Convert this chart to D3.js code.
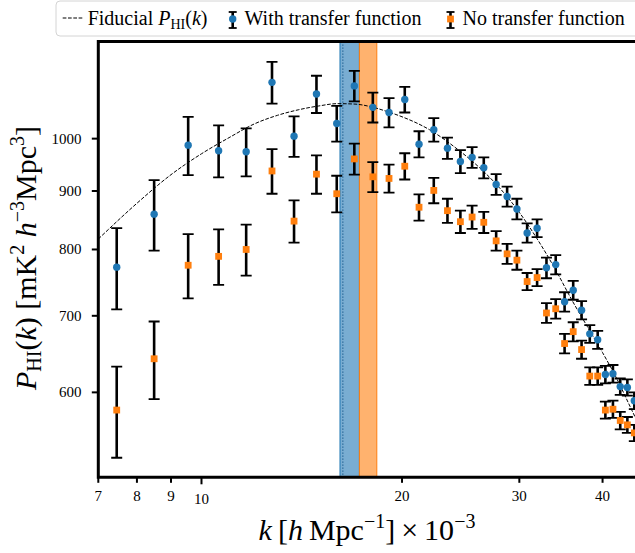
<!DOCTYPE html>
<html><head><meta charset="utf-8">
<script src="https://cdn.jsdelivr.net/npm/d3@7"></script>
<style>
html,body{margin:0;padding:0;background:#fff;}
svg{display:block;}
svg text{font-family:"Liberation Serif","Times New Roman",serif;}
</style>
</head><body>
<svg id="c" width="635" height="553"></svg>
<script>
// ---- data (k in units of 1e-3 h/Mpc, P in mK^2 h^-3 Mpc^3) ----
const kBins = [7.46, 8.49, 9.55, 10.61, 11.67, 12.76, 13.77, 14.88, 15.96, 16.96, 18.08, 19.12,
  20.19, 21.21, 22.32, 23.4, 24.47, 25.48, 26.53, 27.69, 28.76, 29.75, 30.82, 31.9,
  32.95, 34.02, 35.08, 36.14, 37.2, 38.27, 39.33, 40.39, 41.46, 42.52, 43.58, 44.64];
const withTF = [772, 859, 987, 976, 974, 1120, 1005, 1094, 1031, 1112, 1065, 1054,
  1082, 989, 1018, 981, 955, 963, 943, 912, 890, 868, 827, 835,
  771, 776, 720, 737, 708, 675, 667, 622, 623, 607, 606, 590];
const withTFErr = [63, 61, 58, 51, 47, 47, 41, 41, 37, 34, 32, 31,
  28, 26, 24, 21, 22, 20, 20, 19, 18, 18, 16, 15,
  16, 15, 14, 14, 13, 12, 12, 11, 11, 10, 10, 10];
const noTF = [579, 642, 775, 789, 800, 937, 847, 931, 895, 960, 926, 923,
  946, 871, 901, 865, 846, 854, 845, 814, 793, 783, 750, 756,
  704, 710, 662, 678, 654, 620, 620, 579, 580, 567, 562, 553];
const noTFErr = [53, 50, 50, 44, 41, 42, 36, 36, 33, 30, 28, 26,
  25, 23, 23, 21, 19, 20, 18, 16, 16, 15, 13, 13,
  14, 14, 13, 13, 12, 11, 11, 10, 10, 10, 9, 9];
const fidK = [7, 8, 9, 10, 11, 12, 13, 14, 15, 16, 17, 18, 19, 20, 22, 24, 26, 28, 30, 32, 34, 36, 38, 40, 42, 44, 46];
const fidP = [817, 878, 930, 970, 1002, 1030, 1048, 1060, 1068, 1073, 1072, 1066, 1056, 1045, 1018, 983, 946, 906, 862, 815, 768, 722, 684, 650, 617, 583, 552];
const blueBand = [16.14, 17.26];
const orangeBand = [17.26, 18.33];
const dottedK = 16.3;
const xTicks = [7, 8, 9, 10, 20, 30, 40];
const xMajor = [10];
const yTicks = [600, 700, 800, 900, 1000];
const legendLabels = ["Fiducial", "With transfer function", "No transfer function"];

const FONT = "Liberation Serif, Times New Roman, serif";
const BLUE = "#1f77b4", ORANGE = "#ff7f0e";
const svg = d3.select("#c");
const L = 98.3, R = 636, T = 41.5, B = 477.3;
const x = d3.scaleLog().domain([7, 44.9]).range([L, R]);
const y = d3.scaleLog().domain([505.7, 1216]).range([B, T]);

svg.append("defs").append("clipPath").attr("id", "pc")
  .append("rect").attr("x", L).attr("y", T).attr("width", R - L).attr("height", B - T);
const g = svg.append("g").attr("clip-path", "url(#pc)");

// bands
g.append("line").attr("x1", x(dottedK)).attr("x2", x(dottedK)).attr("y1", T).attr("y2", B)
  .attr("stroke", "#1b3c5a").attr("stroke-width", 1.2).attr("stroke-dasharray", "1.2,1.8");
g.append("rect").attr("x", x(blueBand[0])).attr("width", x(blueBand[1]) - x(blueBand[0]))
  .attr("y", T).attr("height", B - T).attr("fill", BLUE).attr("fill-opacity", 0.6)
  .attr("stroke", BLUE).attr("stroke-width", 1);
g.append("rect").attr("x", x(orangeBand[0])).attr("width", x(orangeBand[1]) - x(orangeBand[0]))
  .attr("y", T).attr("height", B - T).attr("fill", ORANGE).attr("fill-opacity", 0.6)
  .attr("stroke", ORANGE).attr("stroke-width", 1);

// fiducial
g.append("path").datum(fidK.map((k, i) => [x(k), y(fidP[i])]))
  .attr("d", d3.line().curve(d3.curveMonotoneX))
  .attr("fill", "none").attr("stroke", "#000").attr("stroke-width", 1)
  .attr("stroke-dasharray", "3.7,1.6");

function series(vals, errs, color, shape) {
  const s = g.append("g");
  kBins.forEach((k, i) => {
    const cx = x(k), lo = y(vals[i] - errs[i]), hi = y(vals[i] + errs[i]);
    s.append("line").attr("x1", cx).attr("x2", cx).attr("y1", lo).attr("y2", hi)
      .attr("stroke", "#000").attr("stroke-width", 2.6);
    [lo, hi].forEach(yy => s.append("line").attr("x1", cx - 5.5).attr("x2", cx + 5.5)
      .attr("y1", yy).attr("y2", yy).attr("stroke", "#000").attr("stroke-width", 1.8));
  });
  kBins.forEach((k, i) => {
    const cx = x(k), cy = y(vals[i]);
    if (shape === "circle") s.append("circle").attr("cx", cx).attr("cy", cy).attr("r", 3.7).attr("fill", color);
    else s.append("rect").attr("x", cx - 3.4).attr("y", cy - 3.4).attr("width", 6.8).attr("height", 6.8).attr("fill", color);
  });
}
series(withTF, withTFErr, BLUE, "circle");
series(noTF, noTFErr, ORANGE, "square");

// axes ticks
const ax = svg.append("g");
xTicks.forEach(v => {
  const major = xMajor.includes(v);
  ax.append("line").attr("x1", x(v)).attr("x2", x(v)).attr("y1", B).attr("y2", B + (major ? 7 : 5.5))
    .attr("stroke", "#000").attr("stroke-width", 2);
  ax.append("text").attr("font-family", FONT).attr("x", x(v)).attr("y", major ? 504 : 501).attr("text-anchor", "middle")
    .attr("font-size", 15).text(v);
});
yTicks.forEach(v => {
  ax.append("line").attr("x1", L - 6.5).attr("x2", L).attr("y1", y(v)).attr("y2", y(v))
    .attr("stroke", "#000").attr("stroke-width", 2);
  ax.append("text").attr("font-family", FONT).attr("x", 81.5).attr("y", y(v) + 5).attr("text-anchor", "end")
    .attr("font-size", 15).text(v);
});

// spines
svg.append("path").attr("d", `M${R + 5},${T} H${L} V${B} H${R + 5}`)
  .attr("fill", "none").attr("stroke", "#000").attr("stroke-width", 3);

// x label
const xl = svg.append("text").attr("font-family", FONT).attr("x", 367).attr("y", 540).attr("text-anchor", "middle").attr("font-size", 30);
xl.append("tspan").attr("font-style", "italic").text("k");
xl.append("tspan").text("\u2009[");
xl.append("tspan").attr("font-style", "italic").text("h");
xl.append("tspan").text("\u2009Mpc");
xl.append("tspan").attr("font-size", 20).attr("dy", -12).text("\u22121");
xl.append("tspan").attr("dy", 12).text("]\u2009\u00d7\u200910");
xl.append("tspan").attr("font-size", 20).attr("dy", -12).text("\u22123");

// y label
const yl = svg.append("text").attr("font-family", FONT).attr("transform", "translate(36,258) rotate(-90)")
  .attr("text-anchor", "middle").attr("font-size", 30);
yl.append("tspan").attr("font-style", "italic").text("P");
yl.append("tspan").attr("font-size", 20).attr("dy", 5).text("HI");
yl.append("tspan").attr("dy", -5).text("(");
yl.append("tspan").attr("font-style", "italic").text("k");
yl.append("tspan").text(") [mK");
yl.append("tspan").attr("font-size", 20).attr("dy", -12).text("2");
yl.append("tspan").attr("dy", 12).text(" ");
yl.append("tspan").attr("font-style", "italic").text("h");
yl.append("tspan").attr("font-size", 20).attr("dy", -12).text("\u22123");
yl.append("tspan").attr("dy", 12).text("Mpc");
yl.append("tspan").attr("font-size", 20).attr("dy", -12).text("3");
yl.append("tspan").attr("dy", 12).text("]");

// legend
const lg = svg.append("g");
lg.append("rect").attr("x", 56).attr("y", 1).attr("width", 640).attr("height", 35).attr("rx", 4)
  .attr("fill", "#fff").attr("fill-opacity", 0.8).attr("stroke", "#d4d4d4").attr("stroke-width", 1);
lg.append("line").attr("x1", 62.7).attr("x2", 83.3).attr("y1", 18).attr("y2", 18)
  .attr("stroke", "#000").attr("stroke-width", 1).attr("stroke-dasharray", "3.7,1.6");
const t0 = lg.append("text").attr("font-family", FONT).attr("x", 87.7).attr("y", 25).attr("font-size", 20);
t0.append("tspan").text(legendLabels[0] + " ");
t0.append("tspan").attr("font-style", "italic").text("P");
t0.append("tspan").attr("font-size", 14).attr("dy", 4).text("HI");
t0.append("tspan").attr("dy", -4).text("(");
t0.append("tspan").attr("font-style", "italic").text("k");
t0.append("tspan").text(")");
function legErr(cx, color, shape, label, tx) {
  lg.append("line").attr("x1", cx).attr("x2", cx).attr("y1", 12).attr("y2", 28).attr("stroke", "#000").attr("stroke-width", 2.6);
  [12, 28].forEach(yy => lg.append("line").attr("x1", cx - 4).attr("x2", cx + 4).attr("y1", yy).attr("y2", yy).attr("stroke", "#000").attr("stroke-width", 1.8));
  if (shape === "circle") lg.append("circle").attr("cx", cx).attr("cy", 19).attr("r", 3.7).attr("fill", color);
  else lg.append("rect").attr("x", cx - 3.4).attr("y", 15.6).attr("width", 6.8).attr("height", 6.8).attr("fill", color);
  lg.append("text").attr("font-family", FONT).attr("x", tx).attr("y", 25).attr("font-size", 20).text(label);
}
legErr(232.7, BLUE, "circle", legendLabels[1], 244.5);
legErr(450.5, ORANGE, "square", legendLabels[2], 462.5);
</script>
</body></html>
